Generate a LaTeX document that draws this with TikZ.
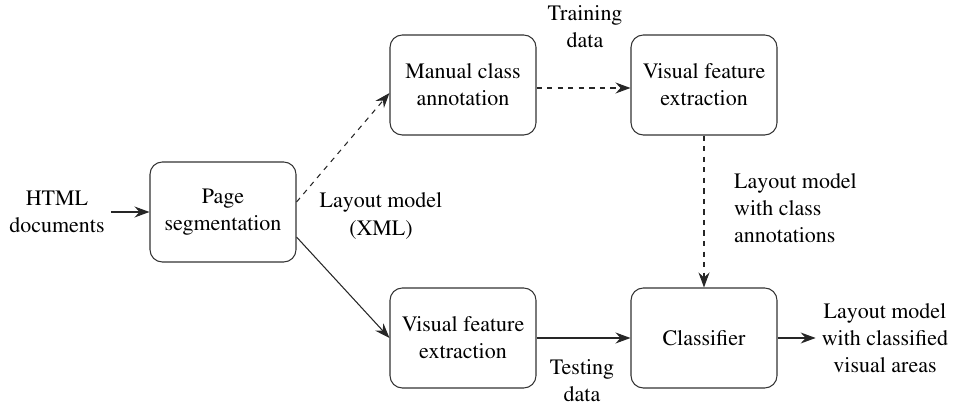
\documentclass[tikz,border=0pt]{standalone}
\usepackage[T1]{fontenc}
\usepackage{times}
\usetikzlibrary{arrows.meta}
\begin{document}
\begin{tikzpicture}[
  box/.style={draw=black!80, line width=0.6pt, rounded corners=7pt,
    minimum width=2.92cm, minimum height=2cm, align=center,
    font=\rmfamily\fontsize{12.5}{15.5}\selectfont},
  lbl/.style={align=center, font=\rmfamily\fontsize{12.5}{15.5}\selectfont},
  link/.style={line width=0.6pt, black!85},
  >={Stealth[length=3mm, width=2.2mm, inset=1mm]}
]
  \useasboundingbox (0,0) rectangle (19.08,8.14);

  \node (P) at (4.46, 3.90) [box] {Page\\segmentation};
  \node (M) at (9.26, 6.44) [box] {Manual class\\annotation};
  \node (V1) at (14.08, 6.44) [box] {Visual feature\\extraction};
  \node (V2) at (9.26, 1.38) [box] {Visual feature\\extraction};
  \node (C) at (14.08, 1.38) [box] {Classifier};

  \node (H) at (1.14, 3.90) [lbl] {HTML\\documents};
  \node (O) at (17.70, 1.38) [lbl] {Layout model\\with classified\\visual areas};
  \node (T) at (11.70, 7.60) [lbl] {Training\\data};
  \node (S) at (11.64, 0.52) [lbl] {Testing\\data};
  \node (X) at (7.62, 3.82) [lbl] {Layout model\\(XML)};
  \node (A) at (14.56, 3.98) [lbl, align=left, anchor=west] {Layout model\\with class\\annotations};

  \draw[->, link] (H) to (P);
  \draw[->, link, dashed] ([yshift=0.2cm]P.east) to ([yshift=-0.16cm]M.west);
  \draw[->, link] ([yshift=-0.5cm]P.east) to (V2.west);
  \draw[->, link, dashed] ([yshift=-0.06cm]M.east) to ([yshift=-0.06cm]V1.west);
  \draw[->, link, dashed] (V1) to (C);
  \draw[->, link] (V2) to (C);
  \draw[->, link] (C) to (O);
\end{tikzpicture}
\end{document}
